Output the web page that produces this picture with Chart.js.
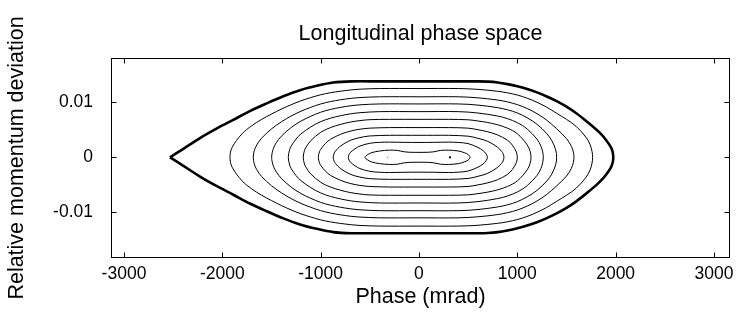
<!DOCTYPE html>
<html>
<head>
<meta charset="utf-8">
<script src="https://cdn.jsdelivr.net/npm/chart.js@4.4.1/dist/chart.umd.min.js"></script>
<style>
  html, body { margin: 0; padding: 0; background: #fff; }
  #wrap { width: 742px; height: 322px; }
</style>
</head>
<body>
<div id="wrap"><canvas id="phaseChart" width="742" height="322"></canvas></div>
<script>
// axis ticks
const xTicks = [-3000, -2000, -1000, 0, 1000, 2000, 3000];
const yTicks = [-0.01, 0, 0.01];
const yTickLabels = ['-0.01', '0', '0.01'];

// momentum values below are in units of 1e-3 (upper half of each contour)
const MOM_UNIT = 0.001;

// separatrix (thick outer line)
const sepPhase = [-2532, -2400, -2227, -2050, -1889, -1720, -1549, -1380, -1210, -1040, -872, -684, -400, 0, 400, 600, 700, 800, 900, 1000, 1100, 1200, 1300, 1400, 1500, 1600, 1700, 1800, 1850, 1900, 1950, 1970, 1976];
const sepMom   = [0, 1.5, 3.5, 5.3, 6.8, 8.4, 9.8, 11.1, 12.2, 13.0, 13.6, 13.8, 13.8, 13.8, 13.8, 13.8, 13.75, 13.6, 13.3, 12.9, 12.4, 11.8, 11.05, 10.2, 9.2, 8.0, 6.6, 5.1, 4.25, 3.2, 1.9, 0.95, 0];

// inner contours, outer to inner
const c1Phase = [-1922, -1900, -1800, -1700, -1600, -1500, -1400, -1300, -1200, -1100, -1000, -900, -800, -700, -600, -400, 0, 400, 600, 800, 900, 1000, 1100, 1200, 1300, 1400, 1500, 1600, 1700, 1740, 1760, 1766];
const c1Mom   = [0, 1.8, 4.26, 5.75, 6.89, 7.86, 8.76, 9.56, 10.27, 10.86, 11.36, 11.74, 12.01, 12.23, 12.38, 12.5, 12.5, 12.5, 12.35, 12.0, 11.72, 11.32, 10.75, 10.0, 9.1, 8.0, 6.9, 5.6, 3.6, 2.3, 1.05, 0];

const c2Phase = [-1685, -1675, -1650, -1600, -1500, -1400, -1300, -1200, -1100, -1000, -900, -800, -700, -600, -400, 0, 400, 600, 800, 900, 1000, 1100, 1200, 1300, 1400, 1500, 1550, 1570, 1576];
const c2Mom   = [0, 1.2, 2.24, 3.49, 5.16, 6.44, 7.5, 8.38, 9.09, 9.69, 10.13, 10.45, 10.7, 10.86, 11.0, 11.0, 11.0, 10.81, 10.41, 10.07, 9.58, 8.87, 7.94, 6.74, 5.19, 3.41, 1.99, 0.95, 0];

const c3Phase = [-1498, -1480, -1450, -1400, -1300, -1200, -1100, -1000, -900, -800, -700, -600, -400, 0, 400, 600, 800, 900, 1000, 1100, 1200, 1300, 1350, 1390, 1400];
const c3Mom   = [0, 1.64, 2.68, 3.82, 5.41, 6.58, 7.46, 8.19, 8.7, 9.07, 9.35, 9.54, 9.7, 9.7, 9.7, 9.49, 9.02, 8.64, 8.06, 7.19, 6.01, 4.3, 3.05, 1.36, 0];

const c4Phase = [-1329, -1315, -1300, -1250, -1200, -1100, -1000, -900, -800, -700, -600, -400, 0, 400, 600, 800, 900, 1000, 1100, 1200, 1240, 1258, 1264];
const c4Mom   = [0, 1.4, 2.02, 3.33, 4.25, 5.52, 6.47, 7.11, 7.55, 7.89, 8.11, 8.3, 8.3, 8.3, 8.05, 7.5, 7.03, 6.3, 5.15, 3.3, 2.02, 1.0, 0];

const c5Phase = [-1177, -1165, -1150, -1100, -1000, -900, -800, -700, -600, -500, -300, 0, 300, 500, 600, 700, 800, 900, 1000, 1100, 1130, 1139];
const c5Mom   = [0, 1.2, 1.79, 3.03, 4.53, 5.4, 5.97, 6.4, 6.67, 6.84, 6.9, 6.9, 6.9, 6.82, 6.6, 6.32, 5.91, 5.3, 4.29, 2.28, 1.1, 0];

const c6Phase = [-1024, -1012, -1000, -950, -900, -800, -700, -600, -500, -300, 0, 300, 500, 600, 700, 800, 900, 950, 990, 1000];
const c6Mom   = [0, 1.0, 1.44, 2.53, 3.28, 4.16, 4.75, 5.11, 5.3, 5.4, 5.4, 5.4, 5.3, 5.01, 4.64, 4.06, 3.11, 2.21, 0.96, 0];

const c7Phase = [-872, -862, -850, -800, -700, -600, -500, -300, -150, 0, 150, 300, 500, 600, 700, 800, 840, 855, 864];
const c7Mom   = [0, 0.75, 1.12, 2.02, 3.07, 3.59, 3.88, 4.0, 4.0, 4.0, 4.0, 4.0, 3.84, 3.45, 2.9, 1.82, 1.1, 0.68, 0];

const c8Phase = [-719, -710, -700, -650, -600, -500, -400, -300, -150, 0, 150, 300, 400, 500, 600, 650, 685, 695];
const c8Mom   = [0, 0.55, 0.83, 1.55, 2.05, 2.55, 2.72, 2.76, 2.72, 2.7, 2.72, 2.76, 2.7, 2.49, 1.79, 1.24, 0.57, 0];

const c9Phase = [-549, -520, -480, -400, -300, -220, -150, -100, 0, 100, 150, 220, 300, 400, 460, 500, 519];
const c9Mom   = [0, 0.5, 0.85, 1.15, 1.3, 1.25, 1.0, 0.92, 0.9, 0.92, 1.0, 1.25, 1.3, 1.15, 0.85, 0.5, 0];

// the two small marks inside the innermost contour
const markPhase = [-318, 315];
const markMom   = [0, 0];

const TITLE = 'Longitudinal phase space';
const FONT = "'Liberation Sans', Arial, sans-serif";
const TICK_SIZE = 17.5;
const LABEL_SIZE = 21.5;

// closed loop: upper half left->right, lower half back; optionally start at phase 0
function loopPoints(phase, mom, startAtZero) {
    const n = phase.length;
    const upper = phase.map((p, i) => ({ x: p, y: mom[i] * MOM_UNIT }));
    const lower = [];
    for (let i = n - 2; i >= 1; i--) lower.push({ x: phase[i], y: -mom[i] * MOM_UNIT });
    if (!startAtZero) return upper.concat(lower, [upper[0]]);
    const z = phase.indexOf(0);
    return upper.slice(z).concat(lower, upper.slice(0, z + 1));
}

const inner = [
    [c1Phase, c1Mom], [c2Phase, c2Mom], [c3Phase, c3Mom], [c4Phase, c4Mom], [c5Phase, c5Mom],
    [c6Phase, c6Mom], [c7Phase, c7Mom], [c8Phase, c8Mom], [c9Phase, c9Mom]
];

const datasets = [{
    data: loopPoints(sepPhase, sepMom, false), // starts/ends at the cusp so it stays sharp
    showLine: true, borderColor: '#000', borderWidth: 2.6, pointRadius: 0, tension: 0.3, fill: false
}];
inner.forEach(c => {
    datasets.push({
        data: loopPoints(c[0], c[1], true),
        showLine: true, borderColor: '#000', borderWidth: 1, pointRadius: 0, tension: 0.35, fill: false
    });
});
datasets.push({
    data: markPhase.map((p, i) => ({ x: p, y: markMom[i] * MOM_UNIT })),
    showLine: false, pointStyle: 'rect', pointRadius: [0.7, 1.4], borderWidth: 0,
    backgroundColor: ['#555', '#000'], borderColor: ['#555', '#000']
});

// box round the plot with inward tick marks, plus the title centred over the plot box
const framePlugin = {
    id: 'frame',
    afterDatasetsDraw(chart) {
        const { ctx, chartArea: a, scales } = chart;
        const L = Math.round(a.left) + 0.5, R = Math.round(a.right) - 0.5;
        const T = Math.round(a.top) + 0.5, B = Math.round(a.bottom) - 0.5;
        ctx.save();
        ctx.strokeStyle = '#000';
        ctx.lineWidth = 1;
        ctx.strokeRect(L, T, R - L, B - T);
        ctx.beginPath();
        xTicks.forEach(v => {
            const px = Math.round(scales.x.getPixelForValue(v)) + 0.5;
            ctx.moveTo(px, B); ctx.lineTo(px, B - 5);
            ctx.moveTo(px, T); ctx.lineTo(px, T + 5);
        });
        yTicks.forEach(v => {
            const py = Math.round(scales.y.getPixelForValue(v)) + 0.5;
            ctx.moveTo(L, py); ctx.lineTo(L + 5, py);
            ctx.moveTo(R, py); ctx.lineTo(R - 5, py);
        });
        ctx.stroke();

        ctx.fillStyle = '#000';
        ctx.font = LABEL_SIZE + 'px ' + FONT;
        ctx.textAlign = 'center';
        ctx.textBaseline = 'middle';
        ctx.fillText(TITLE, (a.left + a.right) / 2, 34);
        ctx.restore();
    }
};

const ctx = document.getElementById('phaseChart').getContext('2d');
new Chart(ctx, {
    type: 'scatter',
    data: { datasets: datasets },
    options: {
        responsive: false,
        animation: false,
        layout: { padding: { left: 0, right: 12, top: 58, bottom: 0 } },
        plugins: {
            legend: { display: false },
            tooltip: { enabled: false },
            title: { display: false }
        },
        scales: {
            x: {
                type: 'linear',
                min: -3132,
                max: 3163,
                afterBuildTicks: s => { s.ticks = xTicks.map(v => ({ value: v })); },
                afterFit: s => { s.height = 64; },
                grid: { display: false, drawTicks: false },
                border: { display: false },
                ticks: {
                    color: '#000', padding: 6, autoSkip: false, maxRotation: 0,
                    font: { family: FONT, size: TICK_SIZE },
                    callback: v => String(v)
                },
                title: {
                    display: true, text: 'Phase (mrad)', color: '#000',
                    font: { family: FONT, size: LABEL_SIZE },
                    padding: { top: 0, bottom: 12 }
                }
            },
            y: {
                type: 'linear',
                min: -0.0183,
                max: 0.01805,
                afterBuildTicks: s => { s.ticks = yTicks.map(v => ({ value: v })); },
                afterFit: s => { s.width = 111; },
                grid: { display: false, drawTicks: false },
                border: { display: false },
                ticks: {
                    color: '#000', padding: 18, autoSkip: false,
                    font: { family: FONT, size: TICK_SIZE },
                    callback: (v) => yTickLabels[yTicks.indexOf(v)] ?? ''
                },
                title: {
                    display: true, text: 'Relative momentum deviation', color: '#000',
                    font: { family: FONT, size: LABEL_SIZE },
                    padding: { top: 4, bottom: 0 }
                }
            }
        }
    },
    plugins: [framePlugin]
});
</script>
</body>
</html>
